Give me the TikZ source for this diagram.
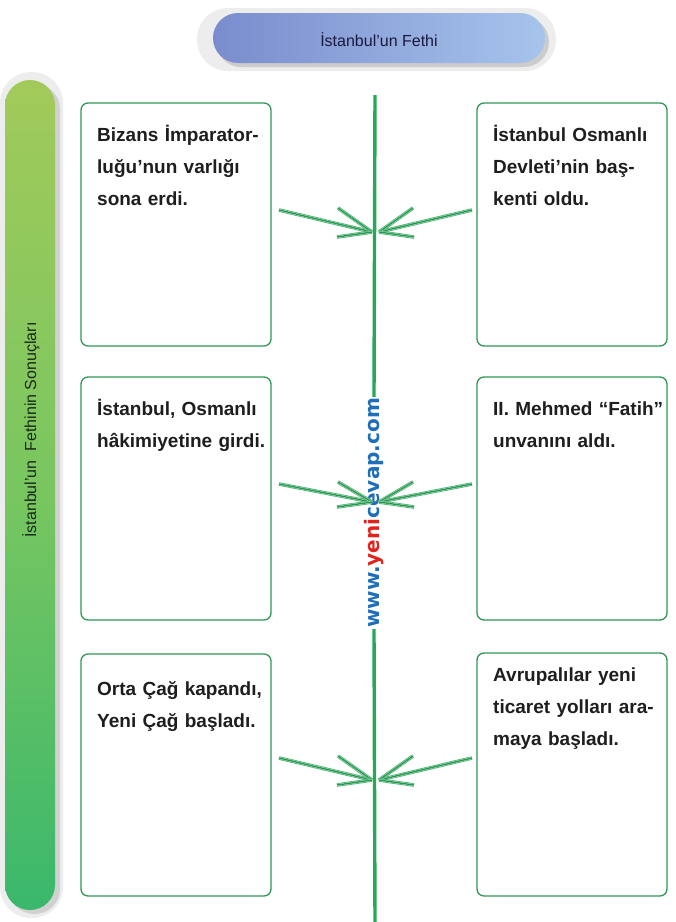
\documentclass[tikz,border=0pt]{standalone}
\usepackage{fontspec}
\setmainfont{Liberation Sans}
\newfontfamily\wmfont{DejaVu Sans}
\definecolor{boxgreen}{RGB}{48,150,86}
\definecolor{linegreen}{RGB}{38,168,88}
\definecolor{arrowgreen}{RGB}{36,155,80}
\definecolor{bartop}{RGB}{162,202,90}
\definecolor{barmid}{RGB}{120,198,96}
\definecolor{barbot}{RGB}{58,184,108}
\definecolor{titleleft}{RGB}{122,140,205}
\definecolor{titleright}{RGB}{166,196,236}
\definecolor{txt}{RGB}{30,30,30}
\definecolor{wmblue}{RGB}{30,110,185}
\definecolor{wmred}{RGB}{225,35,30}
\tikzset{
  resultbox/.style={draw=boxgreen, line width=1.3pt, rounded corners=7pt},
  boxtext/.style={anchor=base west, inner sep=0pt, text width=180pt, align=left,
    text=txt, font=\bfseries\fontsize{19}{32}\selectfont},
  triline/.style={draw=white, line width=1.7pt,
    preaction={draw=arrowgreen!75, line width=3.6pt},
    postaction={draw=arrowgreen, line width=1.4pt}},
  midline/.style={draw=linegreen, line width=3.4pt}
}
\begin{document}
\begin{tikzpicture}[x=1pt,y=-1pt]
\useasboundingbox (0,0) rectangle (676,922);

% title pill
\fill[black!7, rounded corners=31pt] (197,8) rectangle (556,71);
\fill[black!20, rounded corners=25pt] (216,17) rectangle (549,67);
\shade[left color=titleleft, right color=titleright, rounded corners=25pt] (213,13) rectangle (545,63);
\node[font=\fontsize{16}{18}\selectfont, text={rgb,255:red,25;green,25;blue,60}] (title) at (379,40) {İstanbul’un Fethi};

% side bar
\fill[black!7, rounded corners=31pt] (0,72) rectangle (63,918);
\fill[black!18, rounded corners=25pt] (9,84) rectangle (60,914);
\shade[top color=bartop, bottom color=barbot, middle color=barmid, rounded corners=25pt] (5,80) rectangle (55,910);
\node[rotate=90, font=\fontsize{16}{18}\selectfont, text={rgb,255:red,25;green,40;blue,25}] (side) at (31,430) {İstanbul’un\ \ Fethinin Sonuçları};

% boxes
\draw[resultbox] (81,103) rectangle (271,346);
\draw[resultbox] (477,103) rectangle (667,346);
\draw[resultbox] (81,377) rectangle (271,620);
\draw[resultbox] (477,377) rectangle (667,620);
\draw[resultbox] (81,654) rectangle (271,896);
\draw[resultbox] (477,653) rectangle (667,896);

\node[boxtext] (t1) at (97,141) {Bizans İmparator-\\luğu’nun varlığı\\sona erdi.};
\node[boxtext] (t2) at (493,141) {İstanbul Osmanlı\\Devleti’nin baş-\\kenti oldu.};
\node[boxtext] (t3) at (97,415) {İstanbul, Osmanlı\\hâkimiyetine girdi.};
\node[boxtext] (t4) at (493,415) {II. Mehmed “Fatih”\\unvanını aldı.};
\node[boxtext] (t5) at (97,695) {Orta Çağ kapandı,\\Yeni Çağ başladı.};
\node[boxtext] (t6) at (493,681) {Avrupalılar yeni\\ticaret yolları ara-\\maya başladı.};

% watermark and central line
\node[rotate=90, inner sep=1pt, font=\wmfont\bfseries\fontsize{20}{22}\selectfont] (wm) at (374,513)
  {\textcolor{wmblue}{www.}\textcolor{wmred}{yeni}\textcolor{wmblue}{cevap.com}};
\coordinate (ltop) at (375,95);
\coordinate (lbot) at (375,922);
\draw[midline] (ltop) -- (wm.east);
\draw[midline] (wm.west) -- (lbot);

% arrows
\foreach \n/\T/\d in {a/232/22, b/502/18, c/780/22}{
  \coordinate (\n tl) at (372,\T);
  \coordinate (\n tr) at (379,\T);
  \coordinate (\n ll) at (279,\T-\d);
  \coordinate (\n ul) at (338,\T-\d-2);
  \coordinate (\n dl) at (337,\T+5);
  \coordinate (\n lr) at (472,\T-\d);
  \coordinate (\n ur) at (413,\T-\d-2);
  \coordinate (\n dr) at (414,\T+5);
  \draw[triline] (\n ll) -- (\n tl);
  \draw[triline] (\n ul) -- (\n tl);
  \draw[triline] (\n dl) -- (\n tl);
  \draw[triline] (\n lr) -- (\n tr);
  \draw[triline] (\n ur) -- (\n tr);
  \draw[triline] (\n dr) -- (\n tr);
}
\end{tikzpicture}
\end{document}
